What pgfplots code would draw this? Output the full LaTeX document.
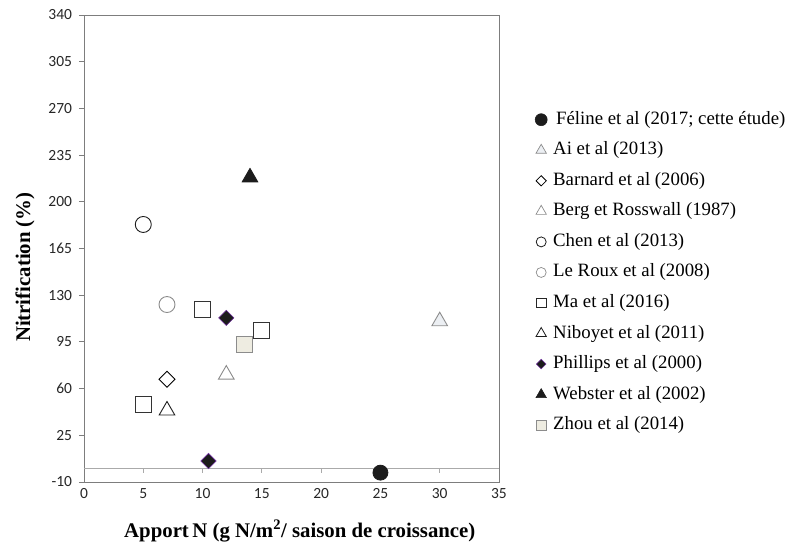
\documentclass[border=0pt]{standalone}
\usepackage{fontspec}
\setmainfont{Liberation Serif}
\newfontfamily\carlito{Carlito}
\usepackage{pgfplots}
\pgfplotsset{compat=1.18}
\definecolor{axgray}{RGB}{125,125,125}
\definecolor{zgray}{RGB}{170,170,170}
\definecolor{mgray}{RGB}{140,140,140}
\definecolor{aifill}{RGB}{236,239,243}
\definecolor{zhoufill}{RGB}{238,236,225}
\definecolor{phpurple}{RGB}{112,48,160}
\definecolor{nearblack}{RGB}{28,28,28}
\begin{document}
\begin{tikzpicture}
\begin{axis}[
  scale only axis, width=415pt, height=467pt,
  xmin=0, xmax=35, ymin=-10, ymax=340,
  xtick={0,5,...,35}, ytick={-10,25,...,340},
  axis line style={axgray, line width=0.8pt},
  ytick pos=left, xtick pos=bottom,
  tick align=outside, major tick length=5pt,
  ytick style={axgray, line width=0.8pt},
  xtick style={draw=none},
  ticklabel style={font=\carlito\fontsize{15.5}{17}\selectfont, text=black!85},
  yticklabel style={xshift=-3.5pt},
  xticklabel style={yshift=2pt},
  /pgf/number format/assume math mode=true,
  xlabel={Apport\,N (g N/m\textsuperscript{2}/ saison de croissance)},
  ylabel={Nitrification (\%)},
  every axis x label/.style={at={(axis description cs:0.52,0)}, yshift=-49pt, anchor=center,
    font=\bfseries\fontsize{20.8}{24}\selectfont},
  every axis y label/.style={at={(axis description cs:0,0.46)}, xshift=-59pt, rotate=90, anchor=center,
    font=\bfseries\fontsize{20.8}{24}\selectfont},
  legend image code/.code={\draw[#1] plot coordinates {(0pt,0pt)};},
  legend style={at={(axis description cs:1,1)}, anchor=north west, xshift=36pt, yshift=-96pt,
    draw=none, fill=none, inner sep=0pt, row sep=13.55pt,
    font=\fontsize{18.8}{22}\selectfont,
    nodes={inner sep=0pt, text height=13pt, text depth=4pt},
    cells={anchor=west},
    /tikz/every odd column/.style={column sep=6pt}},
]
\draw[zgray, line width=0.8pt] (axis cs:0,0) -- (axis cs:35,0);
\pgfplotsinvokeforeach{5,10,15,20,25,30}{\draw[zgray, line width=0.8pt] (axis cs:#1,0) -- ([yshift=-4pt]axis cs:#1,0);}

% Feline
\addplot[only marks, forget plot, mark=*, mark size=7.5pt, mark options={draw=nearblack, fill=nearblack, line width=0.8pt}] coordinates {(25,-3)};
\addlegendimage{only marks, mark=*, mark size=6pt, mark options={draw=nearblack, fill=nearblack, line width=0.6pt}}
\addlegendentry{\hspace{3pt}Féline et al (2017; cette étude)}
% Ai
\addplot[only marks, forget plot, mark=triangle*, mark size=9pt, mark options={draw=mgray, fill=aifill, line width=0.9pt}] coordinates {(30,110.5)};
\addlegendimage{only marks, mark=triangle*, mark size=6pt, mark options={draw=mgray, fill=aifill, line width=0.7pt}}
\addlegendentry{Ai et al (2013)}
% Barnard
\addplot[only marks, forget plot, mark=square*, mark size=5.7pt, mark options={rotate=45, draw=black, fill=white, line width=0.9pt}] coordinates {(7,67)};
\addlegendimage{only marks, mark=square*, mark size=3.6pt, mark options={rotate=45, draw=black, fill=white, line width=0.8pt}}
\addlegendentry{Barnard et al (2006)}
% Berg
\addplot[only marks, forget plot, mark=triangle*, mark size=9pt, mark options={draw=mgray, fill=white, line width=0.9pt}] coordinates {(12,70.5)};
\addlegendimage{only marks, mark=triangle*, mark size=6pt, mark options={draw=mgray, fill=white, line width=0.7pt}}
\addlegendentry{Berg et Rosswall (1987)}
% Chen
\addplot[only marks, forget plot, mark=*, mark size=8pt, mark options={draw=nearblack, fill=white, line width=0.9pt}] coordinates {(5,183)};
\addlegendimage{only marks, mark=*, mark size=5pt, mark options={draw=nearblack, fill=white, line width=0.8pt}}
\addlegendentry{Chen et al (2013)}
% Le Roux
\addplot[only marks, forget plot, mark=*, mark size=8pt, mark options={draw=mgray, fill=white, line width=0.9pt}] coordinates {(7,123)};
\addlegendimage{only marks, mark=*, mark size=5pt, mark options={draw=mgray, fill=white, line width=0.7pt}}
\addlegendentry{Le Roux et al (2008)}
% Ma
\addplot[only marks, forget plot, mark=square*, mark size=8pt, mark options={draw=black!80, fill=white, line width=0.9pt}] coordinates {(5,48) (10,119) (15,103.5)};
\addlegendimage{only marks, mark=square*, mark size=4.8pt, mark options={draw=black!85, fill=white, line width=0.8pt}}
\addlegendentry{Ma et al (2016)}
% Niboyet
\addplot[only marks, forget plot, mark=triangle*, mark size=9pt, mark options={draw=nearblack, fill=white, line width=0.9pt}] coordinates {(7,43.6)};
\addlegendimage{only marks, mark=triangle*, mark size=6pt, mark options={draw=nearblack, fill=white, line width=0.8pt}}
\addlegendentry{Niboyet et al (2011)}
% Phillips
\addplot[only marks, forget plot, mark=square*, mark size=5.4pt, mark options={rotate=45, draw=phpurple, fill=nearblack, line width=0.6pt}] coordinates {(12,113) (10.5,5.7)};
\addlegendimage{only marks, mark=square*, mark size=3.4pt, mark options={rotate=45, draw=phpurple, fill=nearblack, line width=0.5pt}}
\addlegendentry{Phillips et al (2000)}
% Webster
\addplot[only marks, forget plot, mark=triangle*, mark size=9pt, mark options={draw=nearblack, fill=nearblack, line width=0.8pt}] coordinates {(14,218.3)};
\addlegendimage{only marks, mark=triangle*, mark size=6pt, mark options={draw=nearblack, fill=nearblack, line width=0.6pt}}
\addlegendentry{Webster et al (2002)}
% Zhou
\addplot[only marks, forget plot, mark=square*, mark size=8pt, mark options={draw=mgray, fill=zhoufill, line width=0.9pt}] coordinates {(13.5,93)};
\addlegendimage{only marks, mark=square*, mark size=4.8pt, mark options={draw=mgray, fill=zhoufill, line width=0.7pt}}
\addlegendentry{Zhou et al (2014)}
\end{axis}
\pgfresetboundingbox
\path[use as bounding box] (-84pt,-74pt) rectangle (701pt,482pt);
\end{tikzpicture}
\end{document}
